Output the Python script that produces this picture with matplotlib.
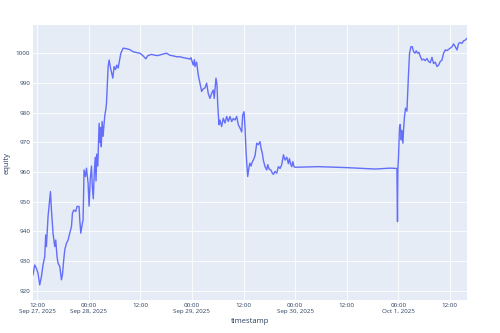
import numpy as np
import pandas as pd
import matplotlib
matplotlib.use("Agg")
import matplotlib.pyplot as plt

# horas desde 2025-09-27 12:00 y valor de equity
hours = [-0.98, -0.58, -0.19, 0.19, 0.58, 0.98, 1.35, 1.75, 1.98, 2.14,
         2.52, 2.91, 3.08, 3.31, 3.68, 4.08, 4.31, 4.61, 4.85, 5.24,
         5.64, 5.87, 6.17, 6.41, 6.80, 7.18, 7.57, 7.97, 8.20, 8.50,
         8.97, 9.27, 9.74, 9.90, 10.14, 10.44, 10.67, 10.90, 11.23, 11.46,
         11.84, 12.07, 12.35, 12.63, 12.82, 13.05, 13.28, 13.51, 13.68, 13.86,
         14.10, 14.40, 14.61, 14.75, 14.91, 15.10, 15.33, 15.54, 15.73, 15.96,
         16.12, 16.31, 16.50, 16.73, 17.06, 17.29, 17.59, 17.89, 18.22, 18.52,
         18.83, 19.15, 19.46, 19.99, 20.78, 21.55, 22.32, 23.11, 23.88, 24.65,
         25.28, 25.75, 26.61, 27.38, 28.08, 29.01, 30.10, 30.87, 31.64, 32.43,
         33.20, 33.97, 34.76, 35.53, 35.77, 36.30, 36.58, 36.70, 37.09, 37.47,
         37.86, 38.26, 38.63, 39.03, 39.42, 39.79, 40.19, 40.59, 40.96, 41.19,
         41.59, 41.82, 41.99, 42.13, 42.29, 42.52, 42.92, 43.29, 43.69, 44.08,
         44.46, 44.85, 45.25, 45.62, 46.02, 46.41, 46.79, 47.18, 47.58, 47.81,
         48.12, 48.35, 48.58, 48.75, 48.98, 49.21, 49.45, 49.75, 50.06, 50.29,
         50.68, 51.08, 51.45, 51.84, 52.08, 52.38, 52.61, 53.01, 53.40, 53.64,
         53.94, 54.34, 54.71, 54.95, 55.34, 55.73, 56.11, 56.51, 56.90, 57.29,
         57.67, 58.07, 58.44, 58.68, 59.00, 59.23, 59.47, 59.76, 60.00, 65.36,
         71.65, 78.64, 82.13, 83.69, 83.83, 83.93, 84.07, 84.30, 84.46, 84.70,
         84.86, 85.09, 85.23, 85.46, 85.70, 86.02, 86.26, 86.40, 86.63, 86.96,
         87.26, 87.56, 87.89, 88.19, 88.49, 88.82, 89.13, 89.52, 89.90, 90.29,
         90.69, 91.06, 91.46, 91.85, 92.22, 92.62, 93.01, 93.39, 93.78, 94.18,
         94.55, 94.95, 95.34, 95.72, 96.11, 96.51, 96.88, 97.28, 97.67, 98.05,
         98.43, 98.83, 99.21, 99.60, 100.0]
equity = [925.4, 928.7, 927.6, 925.9, 922.0, 924.8, 928.7, 931.5, 938.8, 934.9,
          945.0, 950.6, 953.4, 947.2, 939.4, 934.9, 937.1, 931.5, 929.3, 928.2,
          923.7, 925.4, 930.4, 933.8, 936.0, 937.1, 939.4, 941.6, 946.1, 947.2,
          946.7, 948.4, 948.4, 943.9, 939.4, 942.2, 943.9, 960.7, 958.5, 961.3,
          956.2, 948.5, 958.0, 962.0, 955.0, 951.0, 960.0, 965.0, 957.0, 966.0,
          962.0, 976.4, 970.0, 975.0, 968.5, 977.0, 972.0, 976.0, 979.0, 981.0,
          983.2, 989.0, 995.5, 997.7, 995.0, 993.5, 991.6, 995.5, 994.5, 996.0,
          995.0, 997.5, 1000.0, 1001.7, 1001.5, 1001.2, 1000.5, 1000.2, 1000.0, 999.1,
          998.1, 999.2, 999.6, 999.3, 999.2, 999.6, 1000.0, 999.3, 999.1, 998.8,
          998.8, 998.5, 998.3, 998.0, 998.5, 996.0, 997.8, 995.5, 997.0, 992.7,
          989.9, 987.1, 988.0, 988.3, 989.9, 986.5, 984.8, 986.5, 987.6, 984.8,
          991.6, 989.5, 983.0, 979.8, 975.9, 977.5, 975.3, 978.1, 976.5, 978.7,
          977.0, 978.7, 977.0, 978.0, 977.5, 978.7, 975.9, 974.8, 973.5, 979.2,
          980.3, 975.0, 967.4, 963.0, 958.5, 961.0, 963.0, 962.0, 963.5, 964.0,
          965.5, 969.7, 969.2, 970.2, 968.0, 966.3, 964.0, 961.8, 960.7, 962.5,
          961.0, 960.7, 959.6, 959.2, 960.2, 959.6, 961.8, 961.2, 962.5, 965.8,
          964.0, 965.0, 962.8, 964.5, 962.5, 961.8, 963.5, 961.8, 961.6, 961.8,
          961.5, 961.0, 961.3, 961.2, 943.3, 961.5, 965.2, 975.3, 976.0, 970.8,
          974.0, 969.7, 974.0, 978.7, 981.5, 980.5, 988.8, 993.3, 1000.0, 1002.2,
          1002.2, 1000.5, 1000.0, 1000.8, 1000.0, 1000.3, 998.9, 997.7, 998.0, 997.5,
          998.2, 997.2, 996.8, 998.6, 996.5, 997.0, 995.5, 996.0, 997.2, 997.7,
          1000.0, 1001.1, 1000.9, 1001.3, 1001.7, 1002.2, 1003.1, 1002.2, 1001.1, 1003.3,
          1003.6, 1003.3, 1004.2, 1004.4, 1005.0]

tick_times = ["2025-09-27 12:00", "2025-09-28 00:00", "2025-09-28 12:00",
              "2025-09-29 00:00", "2025-09-29 12:00", "2025-09-30 00:00",
              "2025-09-30 12:00", "2025-10-01 00:00", "2025-10-01 12:00"]
tick_labels = ["12:00\nSep 27, 2025", "00:00\nSep 28, 2025", "12:00",
               "00:00\nSep 29, 2025", "12:00", "00:00\nSep 30, 2025",
               "12:00", "00:00\nOct 1, 2025", "12:00"]
y_ticks = [920, 930, 940, 950, 960, 970, 980, 990, 1000]

base = pd.Timestamp("2025-09-27 12:00")
t = base + pd.to_timedelta(hours, unit="h")

plt.rcParams['font.family'] = ['Open Sans', 'DejaVu Sans']
txt = '#2a3f5f'

fig = plt.figure(figsize=(5, 3.33), dpi=100)
ax = fig.add_axes([0.066, 0.099, 0.868, 0.826])
ax.set_facecolor('#E5ECF6')
ax.plot(t, equity, color='#636EFA', lw=1.0)

ax.set_xlim(t[0], t[-1])
ax.set_ylim(916.9, 1009.5)
ax.set_xticks(pd.to_datetime(tick_times))
ax.set_xticklabels(tick_labels)
ax.set_yticks(y_ticks)
ax.grid(True, color='white', lw=0.6)
ax.set_axisbelow(True)
for s in ax.spines.values():
    s.set_visible(False)
ax.tick_params(length=0, labelsize=4.5, labelcolor=txt, pad=2)
ax.set_xlabel('timestamp', fontsize=5.5, color=txt, labelpad=3)
ax.set_ylabel('equity', fontsize=5.5, color=txt, labelpad=4)

fig.savefig('out.png', dpi=100)
